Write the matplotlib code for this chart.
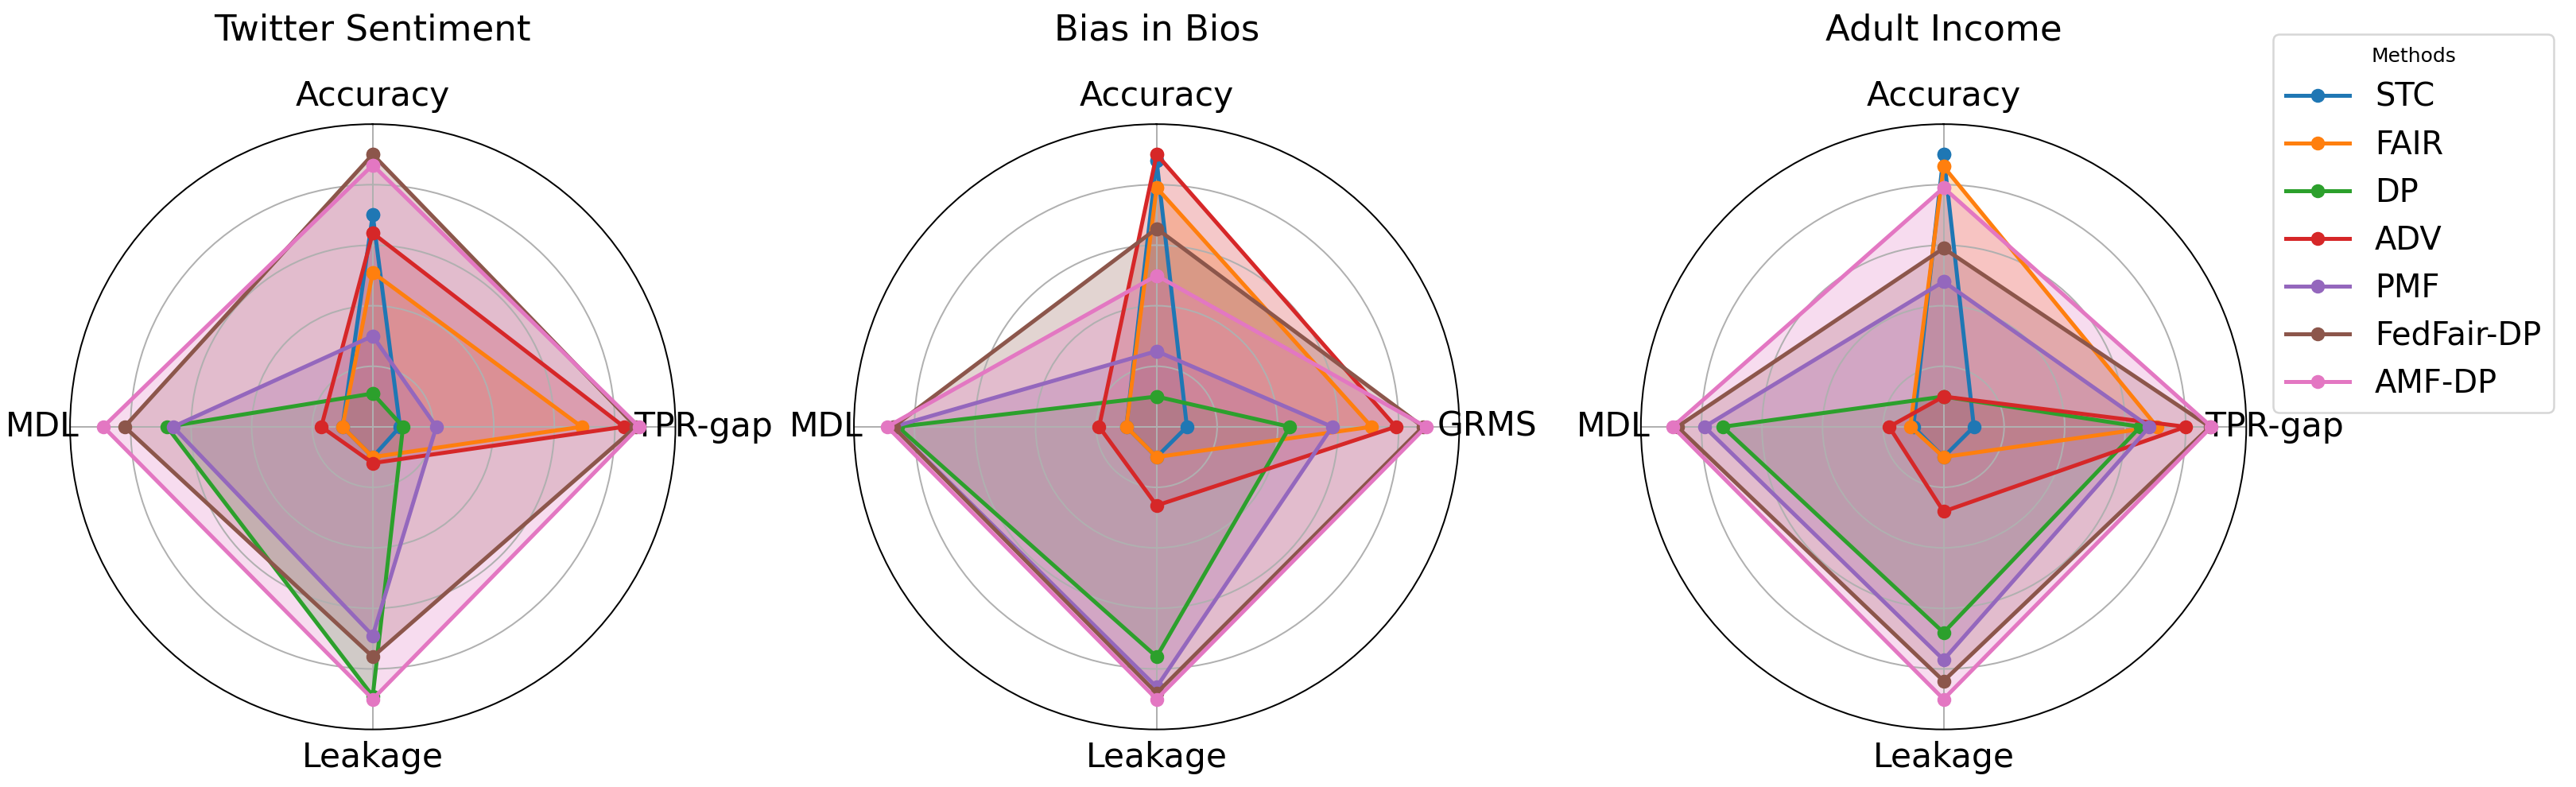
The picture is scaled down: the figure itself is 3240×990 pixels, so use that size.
import numpy as np
import matplotlib
matplotlib.use("Agg")
import matplotlib.pyplot as plt

# methods and metric axes
methods = ["STC", "FAIR", "DP", "ADV", "PMF", "FedFair-DP", "AMF-DP"]
datasets = ["Twitter Sentiment", "Bias in Bios", "Adult Income"]
metrics_twitter = ["Accuracy", "TPR-gap", "Leakage", "MDL"]
metrics_bios = ["Accuracy", "GRMS", "Leakage", "MDL"]
metrics_adult = ["Accuracy", "TPR-gap", "Leakage", "MDL"]

# normalised scores, one row per method: [Accuracy, fairness gap, Leakage, MDL]
twitter_values = [
    [0.70, 0.09, 0.10, 0.10],
    [0.51, 0.69, 0.10, 0.10],
    [0.11, 0.10, 0.89, 0.68],
    [0.64, 0.83, 0.12, 0.17],
    [0.30, 0.21, 0.69, 0.66],
    [0.90, 0.87, 0.76, 0.82],
    [0.865, 0.88, 0.90, 0.89],
]
bios_values = [
    [0.88, 0.10, 0.10, 0.10],
    [0.79, 0.71, 0.10, 0.10],
    [0.10, 0.44, 0.76, 0.855],
    [0.90, 0.79, 0.26, 0.19],
    [0.25, 0.58, 0.86, 0.87],
    [0.655, 0.88, 0.88, 0.87],
    [0.50, 0.89, 0.90, 0.89],
]
adult_values = [
    [0.90, 0.10, 0.10, 0.10],
    [0.86, 0.705, 0.10, 0.11],
    [0.10, 0.65, 0.68, 0.73],
    [0.10, 0.80, 0.28, 0.18],
    [0.48, 0.68, 0.77, 0.79],
    [0.59, 0.88, 0.84, 0.88],
    [0.79, 0.885, 0.90, 0.895],
]

colors = plt.rcParams["axes.prop_cycle"].by_key()["color"][:7]

fig = plt.figure(figsize=(18, 5.5), dpi=180)

panels = [
    (datasets[0], metrics_twitter, twitter_values),
    (datasets[1], metrics_bios, bios_values),
    (datasets[2], metrics_adult, adult_values),
]
lefts = [0.0272, 0.3315, 0.637]

for left, (title, metrics, values) in zip(lefts, panels):
    ax = fig.add_axes([left, 0.0727, 0.235, 0.77], projection="polar")
    ax.set_theta_offset(np.pi / 2)
    ax.set_theta_direction(-1)
    angles = np.linspace(0, 2 * np.pi, len(metrics), endpoint=False)
    closed = np.append(angles, angles[0])

    for name, row, c in zip(methods, values, colors):
        r = np.append(row, row[0])
        ax.plot(closed, r, "o-", color=c, linewidth=2, markersize=6, label=name)
        ax.fill(closed, r, color=c, alpha=0.25)

    ax.set_xticks(angles)
    ax.set_xticklabels(metrics, fontsize=17)
    ax.set_ylim(0, 1)
    ax.set_yticks([0.2, 0.4, 0.6, 0.8])
    ax.set_yticklabels([])
    ax.set_title(title, fontsize=18, pad=20)

handles, labels = ax.get_legend_handles_labels()
fig.legend(handles, labels, title="Methods", fontsize=16, loc="upper left",
           bbox_to_anchor=(0.8824, 0.957), borderaxespad=0)

plt.savefig("out.png", dpi=180)
plt.close()
